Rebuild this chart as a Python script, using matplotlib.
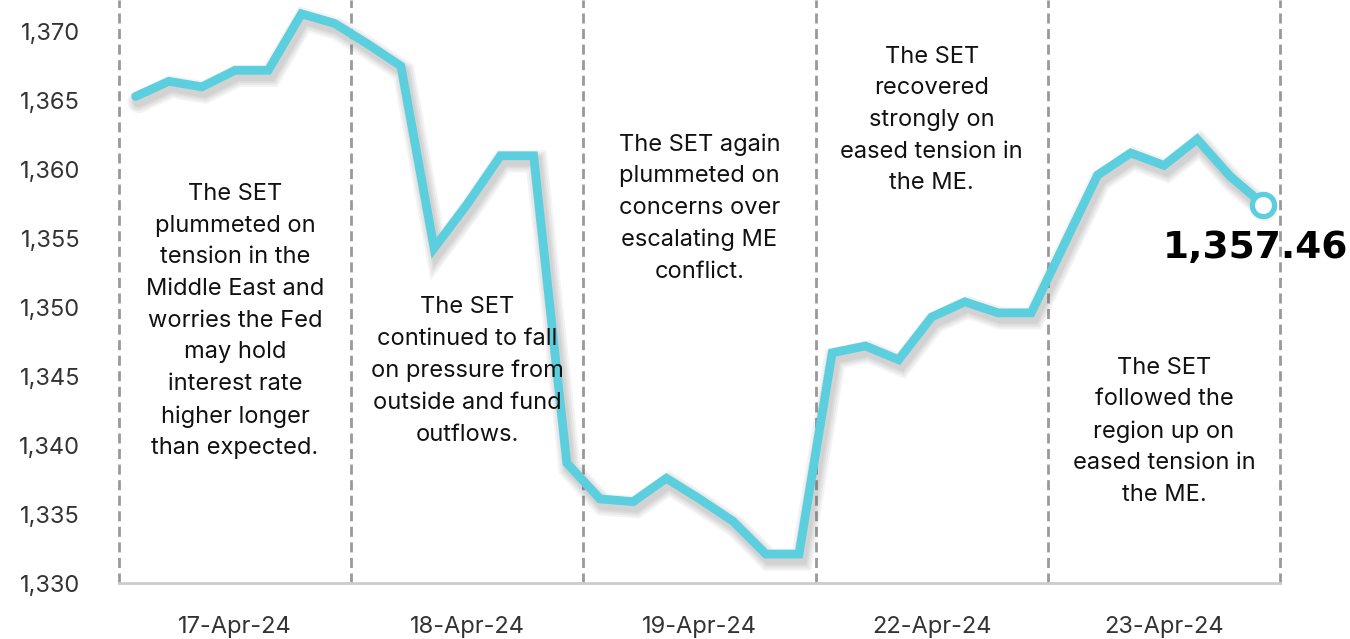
import numpy as np
import matplotlib
matplotlib.use("Agg")
import matplotlib.pyplot as plt
import matplotlib.patheffects as pe

# SET index, 7 readings per trading day
days = ['17-Apr-24', '18-Apr-24', '19-Apr-24', '22-Apr-24', '23-Apr-24']
set_index = [
    1365.3, 1366.4, 1366.0, 1367.2, 1367.2, 1371.3, 1370.6,
    1369.1, 1367.5, 1354.3, 1357.5, 1361.0, 1361.0, 1338.7,
    1336.1, 1335.9, 1337.6, 1336.1, 1334.5, 1332.1, 1332.1,
    1346.7, 1347.2, 1346.2, 1349.3, 1350.4, 1349.6, 1349.6,
    1354.6, 1359.6, 1361.2, 1360.3, 1362.2, 1359.5, 1357.46,
]
last_label = '1,357.46'
yticks = [1330, 1335, 1340, 1345, 1350, 1355, 1360, 1365, 1370]
notes = [
    "The SET\nplummeted on\ntension in the\nMiddle East and\nworries the Fed\nmay hold\ninterest rate\nhigher longer\nthan expected.",
    "The SET\ncontinued to fall\non pressure from\noutside and fund\noutflows.",
    "The SET again\nplummeted on\nconcerns over\nescalating ME\nconflict.",
    "The SET\nrecovered\nstrongly on\neased tension in\nthe ME.",
    "The SET\nfollowed the\nregion up on\neased tension in\nthe ME.",
]
note_y = [1349.0, 1345.4, 1357.2, 1363.6, 1341.0]

per_day = 7
x = np.arange(len(set_index))
line_color = '#5ccfdf'
font = ['Inter', 'DejaVu Sans']

fig = plt.figure(figsize=(13.5, 6.39), dpi=100)
ax = fig.add_axes([119 / 1350, 56 / 639, (1280 - 119) / 1350, 583 / 639])

# day separators
for k in range(len(days) + 1):
    ax.axvline(k * per_day - 0.5, color='#999999', lw=2,
               linestyle=(0, (3.6, 2)), zorder=1, clip_on=False)

# soft shadow under the line
shadow = [pe.SimpleLineShadow(offset=(2, -4), shadow_color='#555555',
                              alpha=0.07, linewidth=w) for w in (16, 13, 10, 7.5)]
ax.plot(x, set_index, color=line_color, lw=6.3, solid_joinstyle='miter',
        solid_capstyle='round', zorder=3,
        path_effects=shadow + [pe.Normal()])
ax.plot(x[-1], set_index[-1], 'o', ms=16, mfc='white', mec=line_color,
        mew=3.8, zorder=4)
ax.annotate(last_label, (x[-1], set_index[-1]), xytext=(-6, -31),
            textcoords='offset points', ha='center', va='center',
            fontsize=27, fontweight='heavy', family='DejaVu Sans',
            color='black', zorder=5)

for k, (txt, yy) in enumerate(zip(notes, note_y)):
    ax.text(k * per_day + 3, yy, txt, ha='center', va='center', fontsize=17,
            linespacing=1.57, color='#111111', family=font, zorder=5)

ax.set_xlim(-0.5, len(set_index) - 0.5)
ax.set_ylim(1330, 1372.3)
ax.set_yticks(yticks)
ax.set_yticklabels([f'{v:,}' for v in yticks], family=font, fontsize=17,
                   color='#333333')
ax.set_xticks([k * per_day + 3 for k in range(len(days))])
ax.set_xticklabels(days, family=font, fontsize=17, color='#333333')
ax.tick_params(axis='y', length=0, pad=28)
ax.tick_params(axis='x', length=0, pad=24)

for s in ('top', 'right', 'left'):
    ax.spines[s].set_visible(False)
ax.spines['bottom'].set_color('#cccccc')
ax.spines['bottom'].set_linewidth(2)

fig.savefig('out.png', dpi=100, facecolor='white')
